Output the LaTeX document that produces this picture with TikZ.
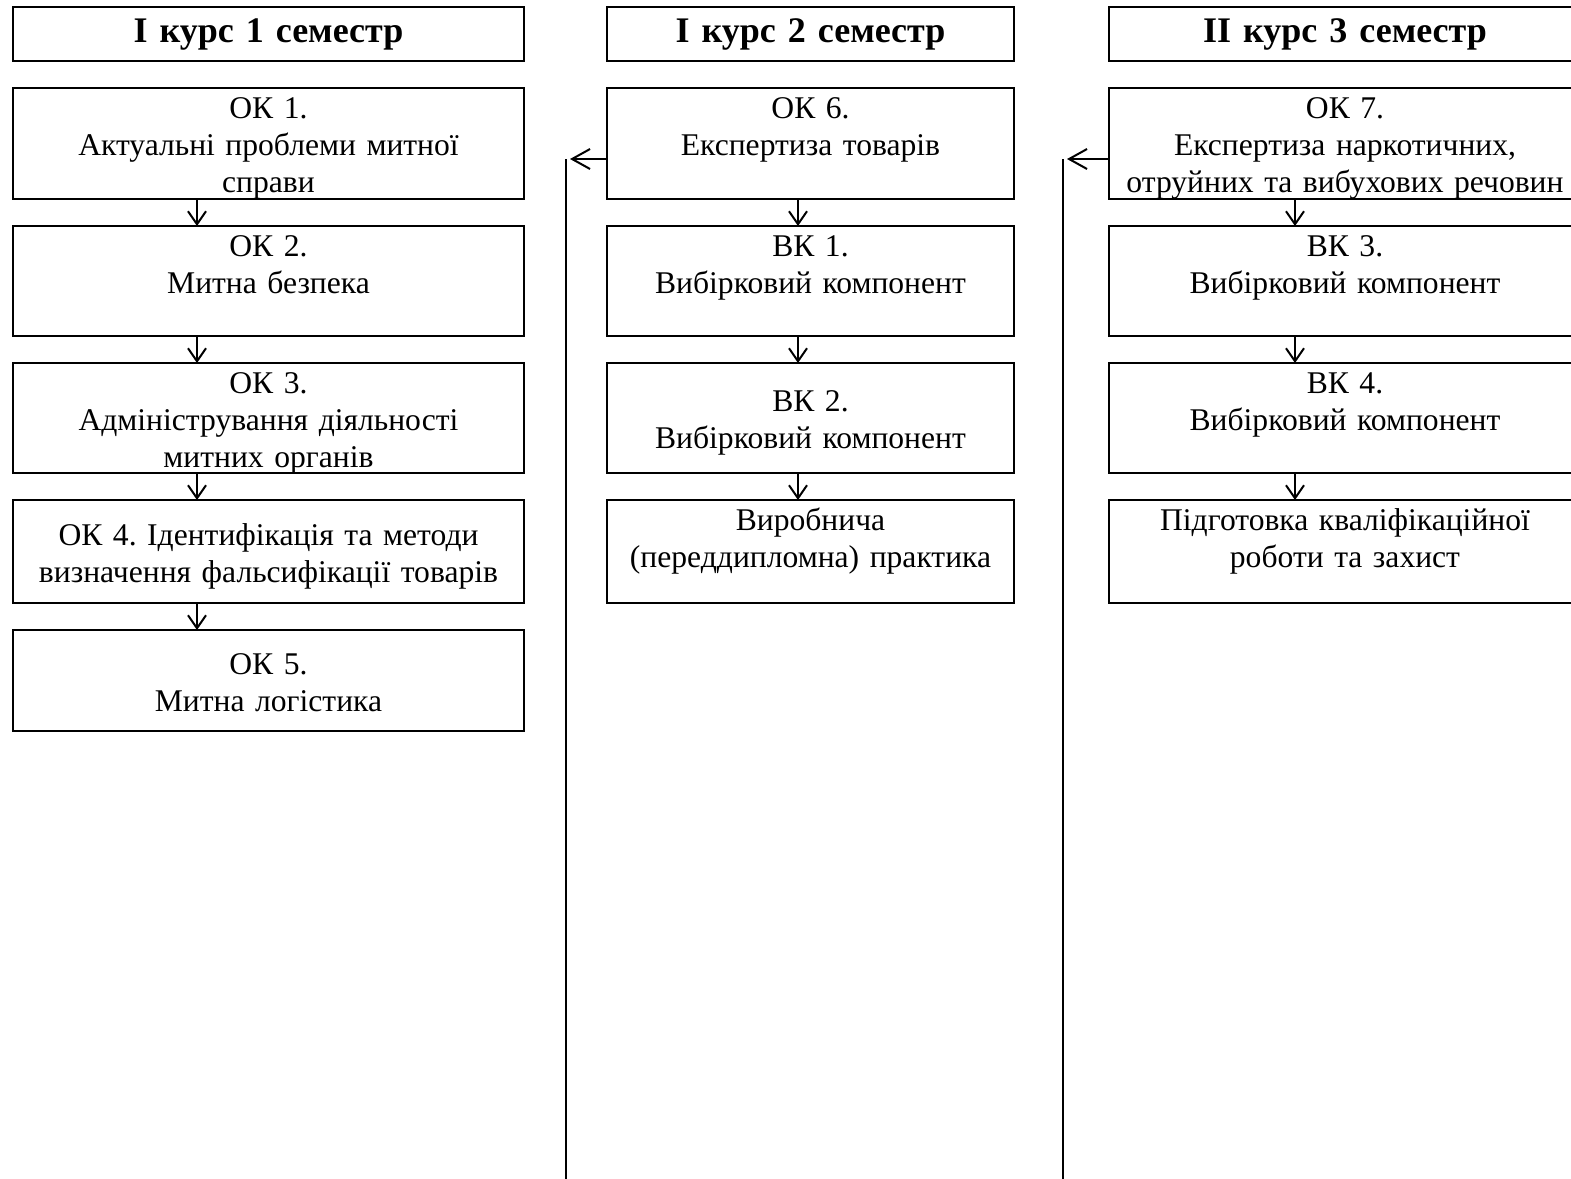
\documentclass[tikz,border=0pt]{standalone}
\usepackage{fontspec}
\setmainfont{Liberation Serif}
\usepackage{tikz}
\usetikzlibrary{positioning, arrows.meta}

\newcommand{\bodyfont}{\fontsize{15.8}{18.6}\selectfont}
\newcommand{\headfont}{\fontsize{18}{21}\selectfont\bfseries}
\frenchspacing

\begin{document}
\begin{tikzpicture}[
    box/.style={draw, line width=1.2pt, outer sep=0pt, align=center,
      inner xsep=2pt, inner ysep=0pt, font=\bodyfont},
    tb/.style 2 args={box, text height=#1, text depth=#2},
    head/.style={draw, line width=1.2pt, outer sep=0pt, align=center,
      minimum height=27pt, inner xsep=2pt, font=\headfont},
    sem1/.style={text width=251.5pt},
    sem2/.style={text width=199.5pt},
    sem3/.style={text width=232pt},
    down/.style={line width=1pt, -{Straight Barb[length=6.5pt,width=9pt]}},
    back/.style={line width=1pt, -{Straight Barb[length=9pt,width=10pt]}}
  ]
    \useasboundingbox (0,0) rectangle (785.5pt,-589.5pt);

    % headers
    \node(hdr1)[head,sem1] at (134.25pt,-17pt){І курс 1 семестр};
    \node(hdr2)[head,sem2,right=41.5pt of hdr1]{І курс 2 семестр};
    \node(hdr3)[head,sem3,right=47.5pt of hdr2]{ІІ курс 3 семестр};

    % 1 semester
    \node(ok1)[tb={15pt}{40.5pt},sem1,below=13.5pt of hdr1]{ОК 1.\\Актуальні проблеми митної\\справи};
    \node(ok2)[tb={15pt}{40pt},sem1,below=13.5pt of ok1]{ОК 2.\\Митна безпека};
    \node(ok3)[tb={15pt}{40pt},sem1,below=13.5pt of ok2]{ОК 3.\\Адміністрування діяльності\\митних органів};
    \node(ok4)[tb={22.5pt}{29pt},sem1,below=13.5pt of ok3]{ОК 4. Ідентифікація та методи\\визначення фальсифікації товарів};
    \node(ok5)[tb={22pt}{28.5pt},sem1,below=13.5pt of ok4]{ОК 5.\\Митна логістика};

    % 2 semester
    \node(ok6)[tb={15pt}{40.5pt},sem2,below=13.5pt of hdr2]{ОК 6.\\Експертиза товарів};
    \node(bk1)[tb={15pt}{40pt},sem2,below=13.5pt of ok6]{ВК 1.\\Вибірковий компонент};
    \node(bk2)[tb={24pt}{31pt},sem2,below=13.5pt of bk1]{ВК 2.\\Вибірковий компонент};
    \node(prac)[tb={15pt}{36.5pt},sem2,below=13.5pt of bk2]{Виробнича\\(переддипломна) практика};

    % 3 semester
    \node(ok7)[tb={15pt}{40.5pt},sem3,below=13.5pt of hdr3]{ОК 7.\\Експертиза наркотичних,\\отруйних та вибухових речовин};
    \node(bk3)[tb={15pt}{40pt},sem3,below=13.5pt of ok7]{ВК 3.\\Вибірковий компонент};
    \node(bk4)[tb={15pt}{40pt},sem3,below=13.5pt of bk3]{ВК 4.\\Вибірковий компонент};
    \node(thes)[tb={15pt}{36.5pt},sem3,below=13.5pt of bk4]{Підготовка кваліфікаційної\\роботи та захист};

    \coordinate(tip2) at ([xshift=-18.5pt,yshift=-7.75pt]ok6.west);
    \coordinate(rail2) at ([xshift=-2pt]tip2);
    \coordinate(end2) at ([yshift=-600pt]rail2);
    \coordinate(tip3) at ([xshift=-21pt,yshift=-7.75pt]ok7.west);
    \coordinate(rail3) at ([xshift=-2pt]tip3);
    \coordinate(end3) at ([yshift=-600pt]rail3);

    \path[every edge/.append style=down]
    ([xshift=-35.75pt]ok1.south) edge ([xshift=-35.75pt]ok2.north)
    ([xshift=-35.75pt]ok2.south) edge ([xshift=-35.75pt]ok3.north)
    ([xshift=-35.75pt]ok3.south) edge ([xshift=-35.75pt]ok4.north)
    ([xshift=-35.75pt]ok4.south) edge ([xshift=-35.75pt]ok5.north)
    ([xshift=-6.25pt]ok6.south) edge ([xshift=-6.25pt]bk1.north)
    ([xshift=-6.25pt]bk1.south) edge ([xshift=-6.25pt]bk2.north)
    ([xshift=-6.25pt]bk2.south) edge ([xshift=-6.25pt]prac.north)
    ([xshift=-25pt]ok7.south) edge ([xshift=-25pt]bk3.north)
    ([xshift=-25pt]bk3.south) edge ([xshift=-25pt]bk4.north)
    ([xshift=-25pt]bk4.south) edge ([xshift=-25pt]thes.north)
    ;

    \path[every edge/.append style=back]
    ([yshift=-7.75pt]ok6.west) edge (tip2)
    ([yshift=-7.75pt]ok7.west) edge (tip3)
    ;
    \draw[line width=1pt] (rail2) -- (end2) (rail3) -- (end3);
  \end{tikzpicture}
\end{document}
